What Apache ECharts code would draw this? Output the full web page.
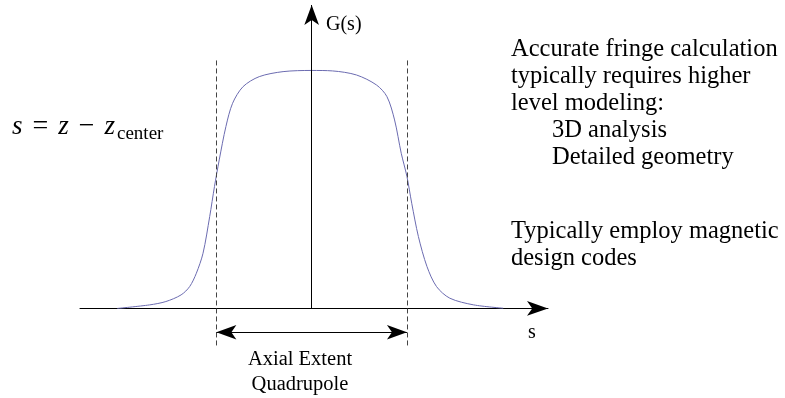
<!DOCTYPE html>
<html>
<head>
<meta charset="utf-8">
<script src="https://cdn.jsdelivr.net/npm/echarts@6/dist/echarts.min.js"></script>
<style>
  html, body { margin: 0; padding: 0; background: #fff; }
  #main { width: 785px; height: 398px; }
</style>
</head>
<body>
<div id="main"></div>
<script>
// fringe field profile G(s) (s in units of half the axial extent)
var sValues = [-2.04, -1.70, -1.53, -1.37, -1.28, -1.21, -1.14, -1.07, -1.02, -0.97, -0.90, -0.83, -0.72, -0.55, -0.30, 0,
  0.22, 0.47, 0.68, 0.79, 0.87, 0.94, 1.00, 1.05, 1.12, 1.21, 1.31, 1.45, 1.70, 2.01];
var gValues = [0.000, 0.015, 0.029, 0.057, 0.092, 0.148, 0.232, 0.386, 0.512, 0.624, 0.764, 0.862, 0.932, 0.974, 0.995, 1.000,
  0.998, 0.981, 0.939, 0.890, 0.792, 0.652, 0.554, 0.442, 0.302, 0.176, 0.092, 0.043, 0.015, 0.001];

// axial extent of the quadrupole and the marker levels
var extent = [-1, 1];
var dashRange = [1.042, -0.162];
var extentArrowLevel = -0.100;
var gAxisTop = 1.275;

var noteLines = ['Accurate fringe calculation', 'typically requires higher', 'level modeling:', '3D analysis', 'Detailed geometry'];
var noteLines2 = ['Typically employ magnetic', 'design codes'];
var extentLabel = ['Axial Extent', 'Quadrupole'];

var chart = echarts.init(document.getElementById('main'));

var curve = sValues.map(function (s, i) { return [s, gValues[i]]; });

var serif = '"Liberation Serif", "DejaVu Serif", serif';
var dashStyle = { color: '#444', width: 1, type: [5, 3] };
var solidStyle = { color: '#000', width: 1, type: 'solid' };

var graphics = [];
noteLines.forEach(function (t, i) {
  graphics.push({
    type: 'text', x: i >= 3 ? 552 : 511, y: 50 + i * 27,
    style: { text: t, font: '24.5px ' + serif, fill: '#000', textVerticalAlign: 'middle' }
  });
});
noteLines2.forEach(function (t, i) {
  graphics.push({
    type: 'text', x: 511, y: 232 + i * 27,
    style: { text: t, font: '24.5px ' + serif, fill: '#000', textVerticalAlign: 'middle' }
  });
});
extentLabel.forEach(function (t, i) {
  graphics.push({
    type: 'text', x: 300, y: 360 + i * 25,
    style: { text: t, font: '20.5px ' + serif, fill: '#000', textAlign: 'center', textVerticalAlign: 'middle' }
  });
});
graphics.push({
  type: 'text', x: 326, y: 25,
  style: { text: 'G(s)', font: '20px ' + serif, fill: '#000', textVerticalAlign: 'middle' }
});
graphics.push({
  type: 'text', x: 532, y: 333,
  style: { text: 's', font: '20px ' + serif, fill: '#000', textAlign: 'center', textVerticalAlign: 'middle' }
});
graphics.push({
  type: 'text', x: 12, y: 127,
  style: {
    text: '{i|s}{o|=}{i|z}{o|\u2212}{i|z}',
    font: '27px ' + serif, fill: '#000', textVerticalAlign: 'middle',
    rich: {
      i: { fontFamily: serif, fontStyle: 'italic', fontSize: 27 },
      o: { fontFamily: serif, fontSize: 28, padding: [0, 10] }
    }
  }
});
graphics.push({
  type: 'text', x: 117, y: 134,
  style: { text: 'center', font: '19px ' + serif, fill: '#000', textVerticalAlign: 'middle' }
});

var option = {
  animation: false,
  grid: { left: 80, right: 237, top: 0, bottom: 48 },
  xAxis: {
    type: 'value', min: -2.431, max: 2.48,
    axisLine: {
      onZero: true, symbol: ['none', 'arrow'], symbolSize: [11, 21],
      lineStyle: { color: '#000', width: 1 }
    },
    axisTick: { show: false }, axisLabel: { show: false }, splitLine: { show: false }
  },
  yAxis: {
    type: 'value', min: -0.1746, max: 1.296,
    axisLine: { show: false }, axisTick: { show: false }, axisLabel: { show: false }, splitLine: { show: false }
  },
  graphic: graphics,
  series: [{
    type: 'line',
    data: curve,
    smooth: 0.3,
    showSymbol: false,
    lineStyle: { color: '#6b6bb0', width: 1 },
    markLine: {
      silent: true,
      label: { show: false },
      symbolSize: [11, 20],
      data: [
        [{ coord: [0, 0], symbol: 'none', lineStyle: solidStyle }, { coord: [0, gAxisTop], symbol: 'arrow', lineStyle: solidStyle }],
        [{ coord: [extent[0], dashRange[0]], symbol: 'none', lineStyle: dashStyle }, { coord: [extent[0], dashRange[1]], symbol: 'none', lineStyle: dashStyle }],
        [{ coord: [extent[1], dashRange[0]], symbol: 'none', lineStyle: dashStyle }, { coord: [extent[1], dashRange[1]], symbol: 'none', lineStyle: dashStyle }],
        [{ coord: [extent[0], extentArrowLevel], symbol: 'arrow', lineStyle: solidStyle }, { coord: [extent[1], extentArrowLevel], symbol: 'arrow', lineStyle: solidStyle }]
      ]
    }
  }]
};

chart.setOption(option);
</script>
</body>
</html>
